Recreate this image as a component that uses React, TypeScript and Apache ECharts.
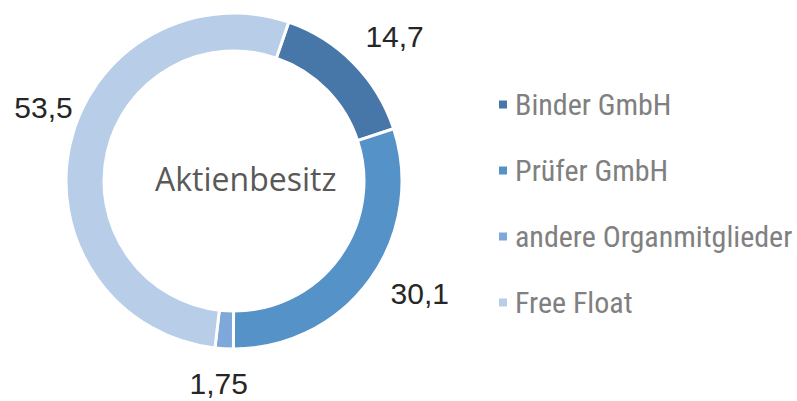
import React, { useEffect, useRef } from "react";
import * as echarts from "echarts";

const categories = ["Binder GmbH", "Prüfer GmbH", "andere Organmitglieder", "Free Float"];
const values = [14.7, 30.1, 1.75, 53.5];
const valueLabels = ["14,7", "30,1", "1,75", "53,5"];
const colors = ["#4677A8", "#5592C8", "#7EA8D9", "#B7CDE8"];
const centerTitle = "Aktienbesitz";
// label nudges (dx, dy) per slice
const labelNudges = [
  [-9, -11],
  [-2, 1],
  [30, 13],
  [29, -32],
];

export default function App() {
  const ref = useRef<HTMLDivElement>(null);
  useEffect(() => {
    if (!ref.current) return;
    const chart = echarts.init(ref.current, null, { renderer: "svg" });
    chart.setOption({
      animation: false,
      backgroundColor: "#ffffff",
      legend: {
        orient: "vertical",
        left: 492,
        top: 84,
        itemWidth: 10,
        itemHeight: 10,
        itemGap: 35,
        icon: "rect",
        data: categories,
        textStyle: {
          color: "#808080",
          fontSize: 30,
          lineHeight: 31,
          fontFamily: "'Liberation Sans Narrow', 'Roboto Condensed', Roboto",
          padding: [0, 0, 0, 2],
        },
      },
      graphic: [
        {
          type: "text",
          left: 155,
          top: 162,
          style: {
            text: centerTitle,
            fill: "#595959",
            fontSize: 32,
            fontFamily: "Open Sans",
          },
        },
      ],
      series: [
        {
          type: "pie",
          center: [234, 181],
          radius: [130, 168],
          startAngle: 71,
          clockwise: true,
          itemStyle: { borderColor: "#ffffff", borderWidth: 3 },
          label: {
            show: true,
            position: "outside",
            alignTo: "none",
            overflow: "none",
            fontSize: 30,
            lineHeight: 28,
            color: "#262626",
            fontFamily: "Liberation Sans",
            formatter: (p: any) => valueLabels[p.dataIndex],
          },
          labelLine: { show: false, length: 22, length2: 0 },
          labelLayout: (p: any) => ({ dx: labelNudges[p.dataIndex][0], dy: labelNudges[p.dataIndex][1] }),
          data: categories.map((name, i) => ({
            name,
            value: values[i],
            itemStyle: { color: colors[i] },
          })),
        },
      ],
    });
    return () => chart.dispose();
  }, []);
  return (
    <div
      ref={ref}
      style={{ position: "fixed", left: 0, top: 0, width: 797, height: 401 }}
    />
  );
}
